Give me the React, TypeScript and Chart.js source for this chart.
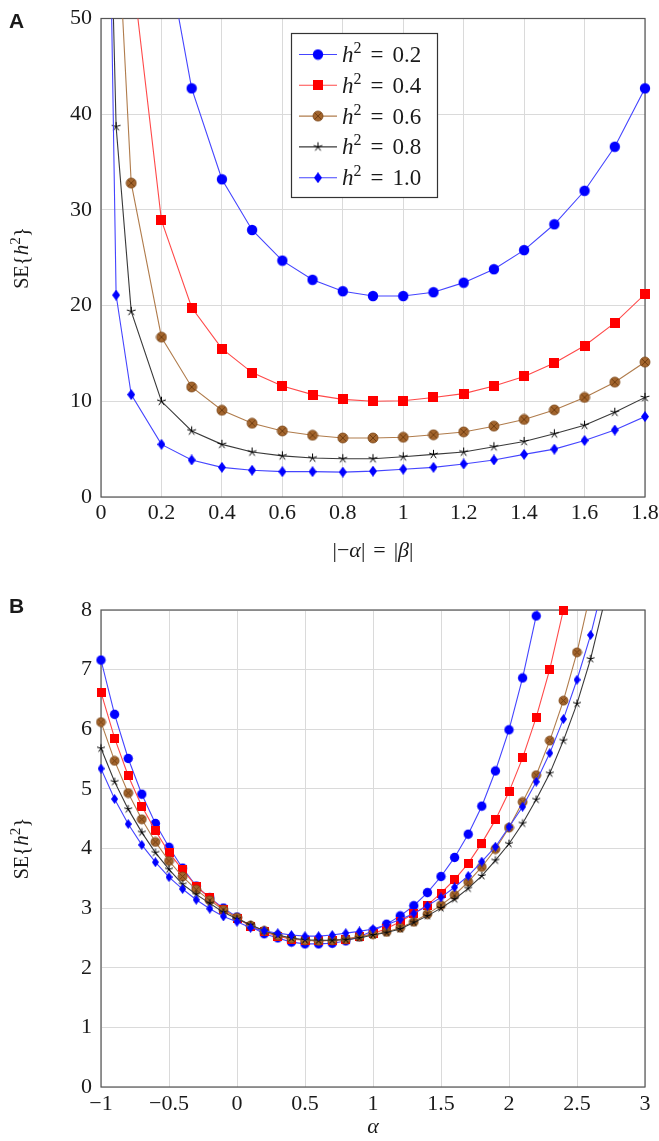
import { useEffect, useRef } from 'react';
import { Chart, registerables } from 'chart.js';
Chart.register(...registerables);

// ---------- Data ----------
// Panel A: x = |-alpha| = |beta|
const xA = [0.01, 0.05, 0.1, 0.2, 0.3, 0.4, 0.5, 0.6, 0.7, 0.8, 0.9, 1.0, 1.1, 1.2, 1.3, 1.4, 1.5, 1.6, 1.7, 1.8];
const seA_h02 = [null, null, null, 60.0, 42.7, 33.2, 27.9, 24.7, 22.7, 21.5, 21.0, 21.0, 21.4, 22.4, 23.8, 25.8, 28.5, 32.0, 36.6, 42.7];
const seA_h04 = [null, null, 56.0, 28.9, 19.8, 15.5, 13.0, 11.6, 10.7, 10.2, 10.0, 10.06, 10.4, 10.8, 11.6, 12.6, 14.0, 15.8, 18.2, 21.2];
const seA_h06 = [null, 63.5, 32.8, 16.7, 11.5, 9.06, 7.7, 6.9, 6.45, 6.17, 6.17, 6.24, 6.5, 6.8, 7.4, 8.1, 9.1, 10.4, 12.0, 14.1];
const seA_h08 = [90.0, 38.7, 19.4, 10.0, 6.9, 5.5, 4.7, 4.3, 4.07, 4.0, 4.0, 4.2, 4.45, 4.7, 5.25, 5.8, 6.6, 7.5, 8.85, 10.4];
const seA_h10 = [100.0, 21.1, 10.7, 5.5, 3.87, 3.1, 2.8, 2.65, 2.65, 2.6, 2.7, 2.9, 3.1, 3.45, 3.87, 4.45, 5.0, 5.9, 7.0, 8.4];

// Panel B: x = alpha
const xB = [-1.0, -0.9, -0.8, -0.7, -0.6, -0.5, -0.4, -0.3, -0.2, -0.1, 0.0, 0.1, 0.2, 0.3, 0.4, 0.5, 0.6, 0.7, 0.8, 0.9, 1.0, 1.1, 1.2, 1.3, 1.4, 1.5, 1.6, 1.7, 1.8, 1.9, 2.0, 2.1, 2.2, 2.3, 2.4, 2.5, 2.6, 2.7];
const seB_h02 = [7.16, 6.25, 5.51, 4.91, 4.42, 4.02, 3.67, 3.37, 3.17, 3.0, 2.85, 2.69, 2.57, 2.5, 2.43, 2.40, 2.40, 2.41, 2.45, 2.52, 2.62, 2.73, 2.87, 3.04, 3.26, 3.53, 3.85, 4.24, 4.71, 5.30, 5.99, 6.86, 7.90, 9.2, null, null, null, null];
const seB_h04 = [6.62, 5.85, 5.22, 4.71, 4.30, 3.93, 3.64, 3.37, 3.17, 2.98, 2.83, 2.70, 2.60, 2.53, 2.48, 2.46, 2.45, 2.46, 2.48, 2.52, 2.57, 2.66, 2.77, 2.91, 3.05, 3.25, 3.48, 3.75, 4.09, 4.48, 4.95, 5.52, 6.20, 7.01, 8.0, 9.1, null, null];
const seB_h06 = [6.12, 5.47, 4.93, 4.49, 4.11, 3.79, 3.53, 3.31, 3.13, 2.97, 2.84, 2.71, 2.62, 2.54, 2.49, 2.46, 2.45, 2.46, 2.48, 2.52, 2.56, 2.60, 2.67, 2.77, 2.90, 3.05, 3.22, 3.44, 3.69, 3.99, 4.35, 4.78, 5.23, 5.81, 6.48, 7.29, 8.3, null];
const seB_h08 = [5.68, 5.12, 4.66, 4.27, 3.93, 3.65, 3.40, 3.23, 3.08, 2.93, 2.82, 2.72, 2.62, 2.55, 2.50, 2.47, 2.46, 2.46, 2.47, 2.50, 2.55, 2.59, 2.65, 2.76, 2.87, 3.00, 3.15, 3.33, 3.54, 3.80, 4.08, 4.42, 4.82, 5.26, 5.81, 6.43, 7.18, 8.12];
const seB_h10 = [5.34, 4.83, 4.41, 4.06, 3.77, 3.52, 3.32, 3.14, 2.99, 2.86, 2.77, 2.67, 2.62, 2.58, 2.55, 2.53, 2.53, 2.55, 2.58, 2.61, 2.65, 2.72, 2.81, 2.91, 3.04, 3.18, 3.35, 3.54, 3.78, 4.03, 4.36, 4.70, 5.12, 5.60, 6.17, 6.83, 7.58, 8.5];

const legendValues = ['0.2', '0.4', '0.6', '0.8', '1.0'];
const ticksAX = [0, 0.2, 0.4, 0.6, 0.8, 1, 1.2, 1.4, 1.6, 1.8];
const ticksAY = [0, 10, 20, 30, 40, 50];
const ticksBX = [-1, -0.5, 0, 0.5, 1, 1.5, 2, 2.5, 3];
const ticksBY = [0, 1, 2, 3, 4, 5, 6, 7, 8];

// ---------- Styles ----------
const SERIF = '"Liberation Serif", "DejaVu Serif", serif';
const TEXT = '#1a1a1a';
const GRID = '#dadada';
const lineColors = ['#4545ff', '#ff4a4a', '#b07c4c', '#3a3a3a', '#4545ff'];
const roman = (s: number) => `${s}px ${SERIF}`;
const italic = (s: number) => `italic ${s}px ${SERIF}`;

type Run = { t?: string; font?: string; dy?: number; gap?: number };

function drawRuns(ctx: CanvasRenderingContext2D, runs: Run[], x: number, y: number, align: 'left' | 'center') {
  let total = 0;
  for (const r of runs) {
    if (r.gap) { total += r.gap; continue; }
    ctx.font = r.font!;
    total += ctx.measureText(r.t!).width;
  }
  let cx = align === 'center' ? x - total / 2 : x;
  ctx.textAlign = 'left';
  ctx.textBaseline = 'alphabetic';
  for (const r of runs) {
    if (r.gap) { cx += r.gap; continue; }
    ctx.font = r.font!;
    ctx.fillText(r.t!, cx, y + (r.dy || 0));
    cx += ctx.measureText(r.t!).width;
  }
}

function makeMarkers(s: number) {
  const mk = (w: number, h: number, draw: (c: CanvasRenderingContext2D, w: number, h: number) => void) => {
    const c = document.createElement('canvas');
    c.width = Math.ceil(w);
    c.height = Math.ceil(h);
    const ctx = c.getContext('2d')!;
    draw(ctx, c.width, c.height);
    return c;
  };
  const circle = mk(11 * s + 1, 11 * s + 1, (c, w, h) => {
    c.fillStyle = '#0000ff';
    c.beginPath(); c.arc(w / 2, h / 2, 5.2 * s, 0, Math.PI * 2); c.fill();
  });
  const square = mk(10 * s, 10 * s, (c, w, h) => {
    c.fillStyle = '#ff0000';
    c.fillRect(0, 0, w, h);
  });
  const otimes = mk(11 * s + 1, 11 * s + 1, (c, w, h) => {
    const r = 5.0 * s;
    c.fillStyle = '#a3652d';
    c.beginPath(); c.arc(w / 2, h / 2, r, 0, Math.PI * 2); c.fill();
    c.strokeStyle = '#7a4516'; c.lineWidth = 0.8;
    c.stroke();
    const d = r * 0.68;
    c.beginPath();
    c.moveTo(w / 2 - d, h / 2 - d); c.lineTo(w / 2 + d, h / 2 + d);
    c.moveTo(w / 2 + d, h / 2 - d); c.lineTo(w / 2 - d, h / 2 + d);
    c.strokeStyle = '#6b3a10'; c.lineWidth = 0.9; c.stroke();
  });
  const star = mk(11 * s, 11 * s, (c, w, h) => {
    c.strokeStyle = '#000'; c.lineWidth = 1;
    c.beginPath();
    for (let k = 0; k < 5; k++) {
      const a = -Math.PI / 2 + (k * 2 * Math.PI) / 5;
      c.moveTo(w / 2, h / 2);
      c.lineTo(w / 2 + Math.cos(a) * 4.6 * s, h / 2 + Math.sin(a) * 4.6 * s);
    }
    c.stroke();
  });
  const diamond = mk(7.5 * s, 11 * s, (c, w, h) => {
    c.fillStyle = '#0000ff';
    c.beginPath();
    c.moveTo(w / 2, 0); c.lineTo(w, h / 2); c.lineTo(w / 2, h); c.lineTo(0, h / 2);
    c.closePath(); c.fill();
  });
  return [circle, square, otimes, star, diamond];
}

function buildDatasets(xs: number[], series: (number | null)[][], markers: HTMLCanvasElement[]) {
  const list: any[] = [];
  series.forEach((vals, i) => {
    const data = xs.map((x, j) => ({ x, y: vals[j] })).filter((p) => p.y !== null);
    list.push({
      data,
      borderColor: lineColors[i],
      borderWidth: 1.1,
      pointRadius: 0,
      tension: 0,
      fill: false,
    });
    list.push({
      data,
      showLine: false,
      pointStyle: markers[i],
      pointRadius: 1,
      pointBorderWidth: 0,
      borderColor: 'rgba(0,0,0,0)',
      backgroundColor: 'rgba(0,0,0,0)',
      clip: false,
    });
  });
  // Chart.js draws dataset 0 on top, so reverse to make later series overlay earlier ones
  return list.reverse();
}

const fmtNum = (v: number) => {
  const s = String(Math.round(v * 10) / 10);
  return s.replace('-', '\u2212');
};

function frameAndText(opts: {
  panel: string; panelY: number; ytitleY: number; xtitle: Run[]; xtitleY: number; legend?: HTMLCanvasElement[];
}) {
  return {
    id: 'frameAndText' + opts.panel,
    beforeDatasetsDraw(chart: any) {
      const { ctx, chartArea: a } = chart;
      ctx.save();
      ctx.strokeStyle = '#555';
      ctx.lineWidth = 1.2;
      ctx.strokeRect(a.left, a.top, a.right - a.left, a.bottom - a.top);
      ctx.restore();
    },
    afterDraw(chart: any) {
      const { ctx, chartArea: a } = chart;
      ctx.save();
      ctx.fillStyle = TEXT;
      // panel letter
      ctx.font = 'bold 21px "Liberation Sans", Arial, sans-serif';
      ctx.textAlign = 'left';
      ctx.textBaseline = 'alphabetic';
      ctx.fillText(opts.panel, 9, opts.panelY);
      // y title
      ctx.save();
      ctx.translate(28, opts.ytitleY);
      ctx.rotate(-Math.PI / 2);
      drawRuns(ctx, [
        { t: 'SE', font: roman(20) },
        { t: '{', font: roman(21) },
        { t: 'h', font: italic(21) },
        { t: '2', font: roman(15), dy: -8 },
        { t: '}', font: roman(21) },
      ], 0, 0, 'center');
      ctx.restore();
      // x title
      drawRuns(ctx, opts.xtitle, (a.left + a.right) / 2, opts.xtitleY, 'center');
      // legend
      if (opts.legend) {
        const bx = 291, by = 33, bw = 146, bh = 164;
        ctx.fillStyle = '#fff';
        ctx.fillRect(bx, by, bw, bh);
        ctx.strokeStyle = '#333';
        ctx.lineWidth = 1.2;
        ctx.strokeRect(bx + 0.5, by + 0.5, bw, bh);
        legendValues.forEach((val, i) => {
          const y = 54.5 + i * 30.8;
          ctx.strokeStyle = lineColors[i];
          ctx.lineWidth = 1.1;
          ctx.beginPath(); ctx.moveTo(299, y); ctx.lineTo(337, y); ctx.stroke();
          const m = opts.legend![i];
          ctx.drawImage(m, 318 - m.width / 2, y - m.height / 2);
          ctx.fillStyle = TEXT;
          drawRuns(ctx, [
            { t: 'h', font: italic(23) },
            { t: '2', font: roman(16), dy: -9 },
            { gap: 9 },
            { t: '=', font: roman(23) },
            { gap: 9 },
            { t: val, font: roman(23) },
          ], 342, y + 7.5, 'left');
        });
      }
      ctx.restore();
    },
  };
}

function axisCommon(min: number, max: number, ticksArr: number[], size: { w?: number; h?: number }, pad: number) {
  return {
    type: 'linear' as const,
    min,
    max,
    afterFit: (s: any) => {
      if (size.w !== undefined) s.width = size.w;
      if (size.h !== undefined) s.height = size.h;
      s.paddingLeft = 0;
      s.paddingRight = 0;
      s.paddingTop = 0;
      s.paddingBottom = 0;
    },
    afterBuildTicks: (s: any) => {
      s.ticks = ticksArr.map((v) => ({ value: v }));
    },
    ticks: {
      padding: pad,
      font: { family: SERIF, size: 22 },
      color: TEXT,
      maxRotation: 0,
      autoSkip: false,
      callback: (v: any) => fmtNum(Number(v)),
    },
    grid: { color: GRID, lineWidth: 1, drawTicks: false },
    border: { display: false },
  };
}

export default function App() {
  const refA = useRef<HTMLCanvasElement>(null);
  const refB = useRef<HTMLCanvasElement>(null);

  useEffect(() => {
    const mA = makeMarkers(1);
    const mB = makeMarkers(0.9);
    const chA = new Chart(refA.current!, {
      type: 'line',
      data: { datasets: buildDatasets(xA, [seA_h02, seA_h04, seA_h06, seA_h08, seA_h10], mA) },
      options: {
        responsive: false,
        animation: false,
        events: [],
        layout: { padding: { left: 0, right: 14, top: 18.5, bottom: 0 } },
        plugins: { legend: { display: false }, tooltip: { enabled: false } },
        scales: {
          x: axisCommon(0, 1.8, ticksAX, { h: 78 }, 3),
          y: axisCommon(0, 50, ticksAY, { w: 101 }, 9),
        },
      },
      plugins: [frameAndText({
        panel: 'A', panelY: 28, ytitleY: 258, xtitleY: 557, legend: mA,
        xtitle: [
          { t: '|', font: roman(22) },
          { t: '\u2212', font: roman(22) },
          { t: '\u03b1', font: italic(22) },
          { t: '|', font: roman(22) },
          { gap: 8 },
          { t: '=', font: roman(22) },
          { gap: 8 },
          { t: '|', font: roman(22) },
          { t: '\u03b2', font: italic(22) },
          { t: '|', font: roman(22) },
        ],
      })],
    } as any);
    const chB = new Chart(refB.current!, {
      type: 'line',
      data: { datasets: buildDatasets(xB, [seB_h02, seB_h04, seB_h06, seB_h08, seB_h10], mB) },
      options: {
        responsive: false,
        animation: false,
        events: [],
        layout: { padding: { left: 0, right: 14, top: 30, bottom: 0 } },
        plugins: { legend: { display: false }, tooltip: { enabled: false } },
        scales: {
          x: axisCommon(-1, 3, ticksBX, { h: 54 }, 4),
          y: axisCommon(0, 8, ticksBY, { w: 101 }, 9),
        },
      },
      plugins: [frameAndText({
        panel: 'B', panelY: 33, ytitleY: 268.5, xtitleY: 553,
        xtitle: [{ t: '\u03b1', font: italic(22) }],
      })],
    } as any);
    return () => {
      chA.destroy();
      chB.destroy();
    };
  }, []);

  return (
    <div style={{ position: 'absolute', left: 0, top: 0, width: 659, height: 1141, background: '#fff' }}>
      <canvas ref={refA} width={659} height={575} style={{ position: 'absolute', left: 0, top: 0 }} />
      <canvas ref={refB} width={659} height={561} style={{ position: 'absolute', left: 0, top: 580 }} />
    </div>
  );
}
